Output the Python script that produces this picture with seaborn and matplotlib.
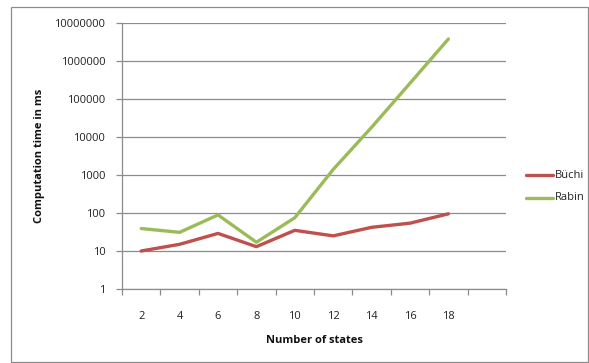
import numpy as np
import pandas as pd
import matplotlib
matplotlib.use("Agg")
import matplotlib.pyplot as plt
import seaborn as sns
from matplotlib.patches import Rectangle
from matplotlib.ticker import FixedLocator, NullFormatter

# Data
states = [2, 4, 6, 8, 10, 12, 14, 16, 18]
buchi = [10, 15, 29, 13, 35, 25, 42, 54, 95]
rabin = [39, 31, 89, 17, 75, 1400, 18000, 260000, 3800000]
series_names = ["Büchi", "Rabin"]
y_ticks = [1, 10, 100, 1000, 10000, 100000, 1000000, 10000000]

pos = list(range(len(states)))
df = pd.DataFrame({
    "pos": pos * 2,
    "time": buchi + rabin,
    "series": [series_names[0]] * len(states) + [series_names[1]] * len(states),
})

sns.set_theme(style="white")
plt.rcParams["font.family"] = ["Open Sans", "DejaVu Sans"]

W, H = 589, 363
fig = plt.figure(figsize=(W / 100, H / 100), dpi=100)
ax = fig.add_axes([122 / W, (H - 289) / H, (506 - 122) / W, (289 - 23) / H])

sns.lineplot(data=df, x="pos", y="time", hue="series",
             palette={"Büchi": "#C0504D", "Rabin": "#9BBB59"},
             linewidth=2.4, ax=ax, legend=False)

ax.set_yscale("log")
ax.set_ylim(1, 10000000)
ax.set_xlim(-0.5, 9.5)

ax.yaxis.set_major_locator(FixedLocator(y_ticks))
ax.yaxis.set_minor_locator(FixedLocator([]))
ax.set_yticklabels([str(v) for v in y_ticks])
ax.set_xticks(pos)
ax.set_xticklabels([str(s) for s in states])
ax.xaxis.set_minor_locator(FixedLocator(np.arange(-0.5, 10, 1.0)))
ax.xaxis.set_minor_formatter(NullFormatter())

ax.grid(axis="y", color="#8c8c8c", linewidth=0.9)
ax.grid(axis="x", visible=False)
ax.set_axisbelow(True)

for side in ["top", "right"]:
    ax.spines[side].set_visible(False)
for side in ["left", "bottom"]:
    ax.spines[side].set_color("#8c8c8c")
    ax.spines[side].set_linewidth(0.9)

ax.tick_params(axis="y", which="major", left=True, length=4, width=0.9,
               color="#8c8c8c", labelsize=8, pad=8, labelcolor="#222222")
ax.tick_params(axis="x", which="major", bottom=False, labelsize=8,
               pad=10, labelcolor="#222222")
ax.tick_params(axis="x", which="minor", bottom=True, length=4, width=0.9,
               color="#8c8c8c")

ax.set_xlabel("Number of states", fontsize=8, fontweight="bold",
              color="#111111", labelpad=9)
ax.set_ylabel("Computation time in ms", fontsize=8, fontweight="bold",
              color="#111111", labelpad=7)

# Legend on the right
for i, (name, col) in enumerate(zip(series_names, ["#C0504D", "#9BBB59"])):
    yy = (H - (175 + i * 23)) / H
    fig.add_artist(plt.Line2D([526 / W, 553 / W], [yy, yy], color=col,
                              linewidth=2.4, transform=fig.transFigure))
    fig.text(555 / W, yy, name, fontsize=8, va="center", ha="left",
             color="#222222")

# Chart frame
fig.add_artist(Rectangle((11 / W, 1 / H), (W - 12) / W, (H - 8) / H,
                         transform=fig.transFigure, fill=False,
                         edgecolor="#8c8c8c", linewidth=0.9))

fig.savefig("out.png", dpi=100)
